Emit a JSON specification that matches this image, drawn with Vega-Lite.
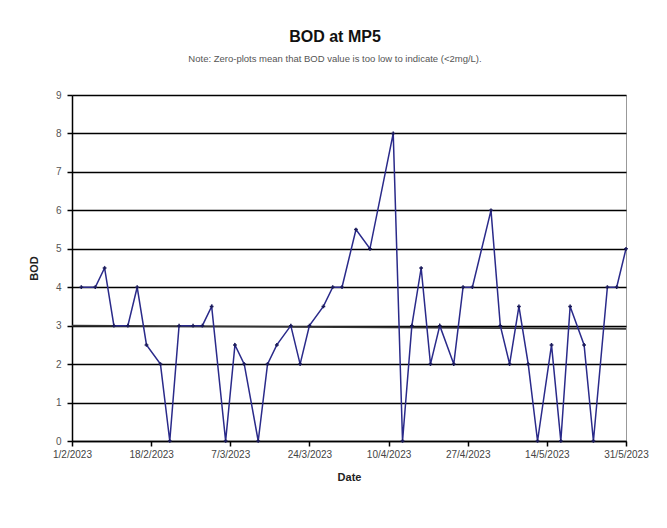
{
  "$schema": "https://vega.github.io/schema/vega-lite/v6.json",
  "autosize": {"type": "none"},
  "width": 554,
  "height": 346,
  "padding": {"left": 72, "top": 95, "right": 41, "bottom": 87},
  "background": "white",
  "title": {
    "text": "BOD  at MP5",
    "subtitle": "Note:  Zero-plots  mean that BOD  value is too low to indicate (<2mg/L).",
    "anchor": "middle",
    "dx": -14,
    "offset": 27,
    "font": "Liberation Sans",
    "fontSize": 16,
    "fontWeight": "bold",
    "color": "#111",
    "subtitleFont": "Liberation Sans",
    "subtitleFontSize": 9.5,
    "subtitleColor": "#555",
    "subtitlePadding": 9
  },
  "datasets": {
    "bod": [
      {"date": "2023-02-03", "BOD": 4},
      {"date": "2023-02-06", "BOD": 4},
      {"date": "2023-02-08", "BOD": 4.5},
      {"date": "2023-02-10", "BOD": 3},
      {"date": "2023-02-13", "BOD": 3},
      {"date": "2023-02-15", "BOD": 4},
      {"date": "2023-02-17", "BOD": 2.5},
      {"date": "2023-02-20", "BOD": 2},
      {"date": "2023-02-22", "BOD": 0},
      {"date": "2023-02-24", "BOD": 3},
      {"date": "2023-02-27", "BOD": 3},
      {"date": "2023-03-01", "BOD": 3},
      {"date": "2023-03-03", "BOD": 3.5},
      {"date": "2023-03-06", "BOD": 0},
      {"date": "2023-03-08", "BOD": 2.5},
      {"date": "2023-03-10", "BOD": 2},
      {"date": "2023-03-13", "BOD": 0},
      {"date": "2023-03-15", "BOD": 2},
      {"date": "2023-03-17", "BOD": 2.5},
      {"date": "2023-03-20", "BOD": 3},
      {"date": "2023-03-22", "BOD": 2},
      {"date": "2023-03-24", "BOD": 3},
      {"date": "2023-03-27", "BOD": 3.5},
      {"date": "2023-03-29", "BOD": 4},
      {"date": "2023-03-31", "BOD": 4},
      {"date": "2023-04-03", "BOD": 5.5},
      {"date": "2023-04-06", "BOD": 5},
      {"date": "2023-04-11", "BOD": 8},
      {"date": "2023-04-13", "BOD": 0},
      {"date": "2023-04-15", "BOD": 3},
      {"date": "2023-04-17", "BOD": 4.5},
      {"date": "2023-04-19", "BOD": 2},
      {"date": "2023-04-21", "BOD": 3},
      {"date": "2023-04-24", "BOD": 2},
      {"date": "2023-04-26", "BOD": 4},
      {"date": "2023-04-28", "BOD": 4},
      {"date": "2023-05-02", "BOD": 6},
      {"date": "2023-05-04", "BOD": 3},
      {"date": "2023-05-06", "BOD": 2},
      {"date": "2023-05-08", "BOD": 3.5},
      {"date": "2023-05-10", "BOD": 2},
      {"date": "2023-05-12", "BOD": 0},
      {"date": "2023-05-15", "BOD": 2.5},
      {"date": "2023-05-17", "BOD": 0},
      {"date": "2023-05-19", "BOD": 3.5},
      {"date": "2023-05-22", "BOD": 2.5},
      {"date": "2023-05-24", "BOD": 0},
      {"date": "2023-05-27", "BOD": 4},
      {"date": "2023-05-29", "BOD": 4},
      {"date": "2023-05-31", "BOD": 5}
    ],
    "ref": [
      {"date": "2023-02-01", "BOD": 3.0},
      {"date": "2023-05-31", "BOD": 2.92}
    ]
  },
  "encoding": {
    "x": {
      "field": "date",
      "type": "temporal",
      "scale": {
        "type": "utc",
        "domain": [
          {"year": 2023, "month": 2, "date": 1, "utc": true},
          {"year": 2023, "month": 5, "date": 31, "utc": true}
        ]
      },
      "axis": {
        "title": "Date",
        "values": [
          {"year": 2023, "month": 2, "date": 1, "utc": true},
          {"year": 2023, "month": 2, "date": 18, "utc": true},
          {"year": 2023, "month": 3, "date": 7, "utc": true},
          {"year": 2023, "month": 3, "date": 24, "utc": true},
          {"year": 2023, "month": 4, "date": 10, "utc": true},
          {"year": 2023, "month": 4, "date": 27, "utc": true},
          {"year": 2023, "month": 5, "date": 14, "utc": true},
          {"year": 2023, "month": 5, "date": 31, "utc": true}
        ],
        "format": "%-d/%-m/%Y",
        "labelAngle": 0,
        "grid": false,
        "domainColor": "#000",
        "domainWidth": 1.5,
        "tickColor": "#000",
        "tickWidth": 1.5,
        "tickSize": 5,
        "labelFont": "Liberation Sans",
        "labelFontSize": 10,
        "labelColor": "#444",
        "labelPadding": 3,
        "labelOverlap": false,
        "labelFlush": false,
        "titleFont": "Liberation Sans",
        "titleFontSize": 11,
        "titleFontWeight": "bold",
        "titleColor": "#222",
        "titlePadding": 12
      }
    },
    "y": {
      "field": "BOD",
      "type": "quantitative",
      "scale": {"domain": [0, 9], "nice": false},
      "axis": {
        "title": "BOD",
        "values": [0, 1, 2, 3, 4, 5, 6, 7, 8, 9],
        "grid": true,
        "gridColor": "#000",
        "gridWidth": 1.5,
        "gridOpacity": 1,
        "domainColor": "#000",
        "domainWidth": 1.5,
        "tickColor": "#000",
        "tickWidth": 1.5,
        "tickSize": 5,
        "labelFont": "Liberation Sans",
        "labelFontSize": 10,
        "labelColor": "#555",
        "labelPadding": 6,
        "titleFont": "Liberation Sans",
        "titleFontSize": 11,
        "titleFontWeight": "bold",
        "titleColor": "#222",
        "titlePadding": 16
      }
    }
  },
  "layer": [
    {
      "data": {"name": "ref"},
      "mark": {"type": "line", "color": "#333", "strokeWidth": 1.8}
    },
    {
      "data": {"name": "bod"},
      "mark": {
        "type": "line",
        "color": "#2a2a8a",
        "strokeWidth": 1.5,
        "point": {"shape": "cross", "size": 14, "filled": true, "color": "#1a1a5a"}
      }
    }
  ],
  "config": {
    "view": {"stroke": "#999", "strokeWidth": 1}
  }
}
